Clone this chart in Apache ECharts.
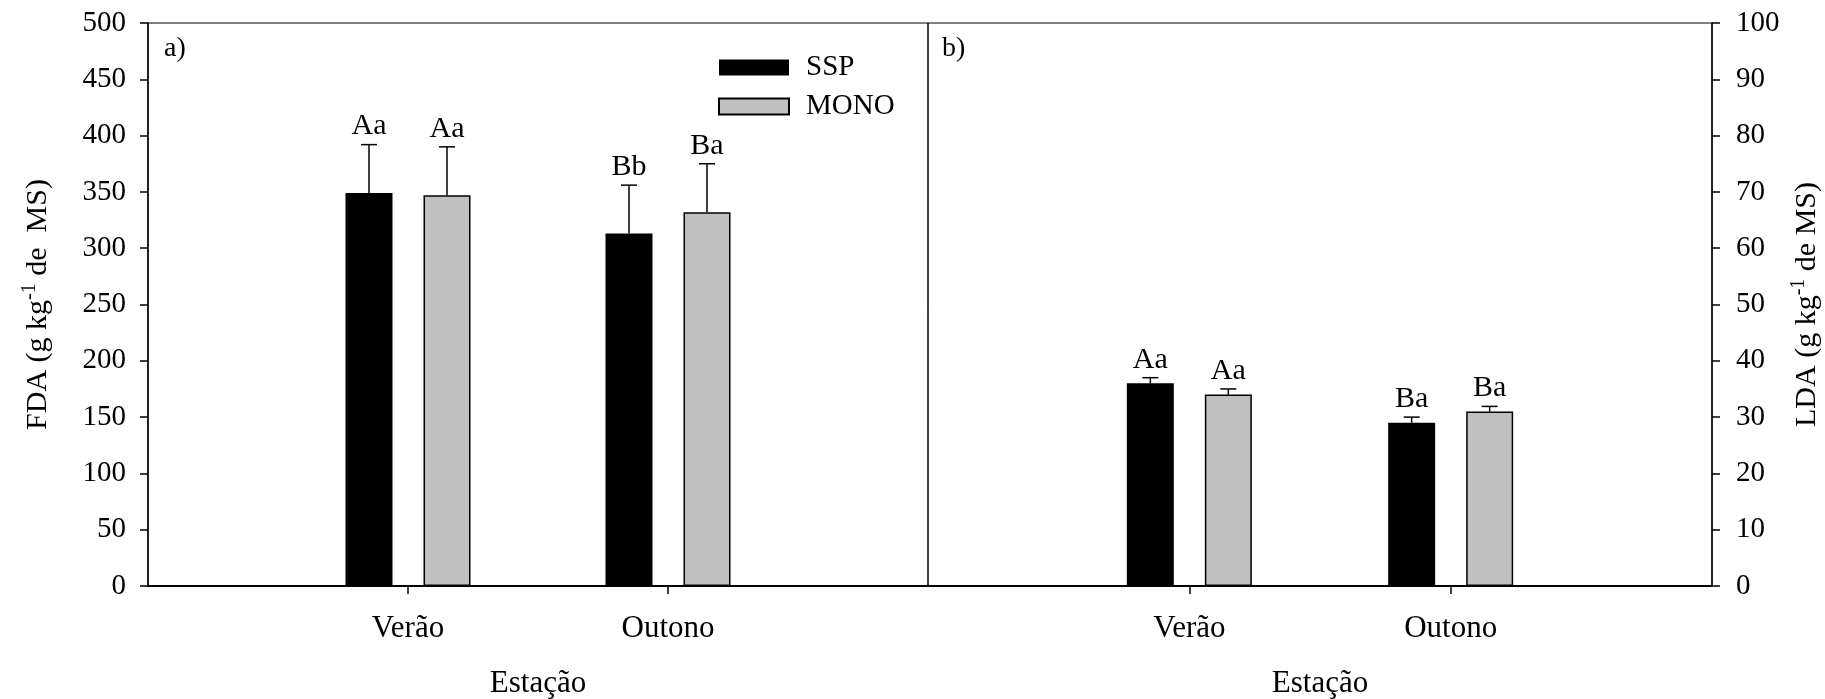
<!DOCTYPE html>
<html><head><meta charset="utf-8">
<script src="https://cdn.jsdelivr.net/npm/echarts@6/dist/echarts.min.js"></script>
<style>html,body{margin:0;padding:0;background:#fff}#c{width:1825px;height:699px}</style>
</head><body><div id="c"></div>
<script>
// ---- data ----
const seasons = ['Verão', 'Outono'];
const seriesNames = ['SSP', 'MONO'];
const fdaSSP = [349, 313];
const fdaMONO = [347, 332];
const fdaSSPErr = [43, 43];
const fdaMONOErr = [43, 43];
const fdaSSPLetters = ['Aa', 'Bb'];
const fdaMONOLetters = ['Aa', 'Ba'];
const ldaSSP = [36, 29];
const ldaMONO = [34, 31];
const ldaSSPErr = [1, 1];
const ldaMONOErr = [1, 0.9];
const ldaSSPLetters = ['Aa', 'Ba'];
const ldaMONOLetters = ['Aa', 'Ba'];
const fdaAxis = [0, 500, 50];
const ldaAxis = [0, 100, 10];
const xTitle = 'Estação';
const panelTags = ['a)', 'b)'];

// ---- style ----
const FONT = '"Liberation Serif", "Times New Roman", serif';
const BAR_W = 47, BAR_GAP = 31, CAP = 16;
const colors = ['#000000', '#c0c0c0'];

const xCats = ['', ...seasons, ''];
const pad = a => ['-', ...a, '-'];

function errSeries(name, gi, vals, errs, letters, side) {
  return {
    type: 'custom', name: name + '_err', xAxisIndex: gi, yAxisIndex: gi, z: 5,
    silent: true,
    data: vals.map((v, i) => [i + 1, v, errs[i]]),
    encode: {x: 0, y: 1},
    renderItem: function (params, api) {
      const xi = api.value(0), v = api.value(1), e = api.value(2);
      const b = api.coord([xi, v]);
      const t = api.coord([xi, v + e]);
      const x = b[0] + side * (BAR_W / 2 + BAR_GAP / 2);
      return {
        type: 'group',
        children: [
          {type: 'line', shape: {x1: x, y1: b[1], x2: x, y2: t[1]}, style: {stroke: '#000', lineWidth: 1.5}},
          {type: 'line', shape: {x1: x - CAP / 2, y1: t[1], x2: x + CAP / 2, y2: t[1]}, style: {stroke: '#000', lineWidth: 1.5}},
          {type: 'text', style: {text: letters[params.dataIndex], x: x, y: t[1] - 3, align: 'center', verticalAlign: 'bottom',
            fontSize: 30, fontFamily: FONT, fill: '#000'}}
        ]
      };
    }
  };
}

function barSeries(name, gi, vals, ci) {
  return {
    type: 'bar', name: name, xAxisIndex: gi, yAxisIndex: gi,
    data: pad(vals), barWidth: BAR_W, barGap: (BAR_GAP / BAR_W * 100).toFixed(1) + '%',
    itemStyle: {color: colors[ci], borderColor: '#000', borderWidth: ci === 0 ? 0 : 1.5},
    emphasis: {disabled: true}
  };
}

function xAxis(gi) {
  return {
    type: 'category', gridIndex: gi, data: xCats, boundaryGap: false,
    axisLine: {show: true, lineStyle: {color: '#000', width: 2}},
    axisTick: {show: true, length: 8, interval: (i) => i === 1 || i === 2, lineStyle: {color: '#000', width: 1.5}},
    axisLabel: {show: true, interval: 0, margin: 27, color: '#000', fontSize: 31, fontFamily: FONT},
    splitLine: {show: false},
    name: xTitle, nameLocation: 'middle', nameGap: 82,
    nameTextStyle: {color: '#000', fontSize: 31, fontFamily: FONT}
  };
}

const nameRich = {
  t: {fontSize: 30, fontFamily: FONT, color: '#000', lineHeight: 36},
  s: {fontSize: 20, fontFamily: FONT, color: '#000', verticalAlign: 'top', lineHeight: 36, padding: [0, 0, 10, 0]}
};

const option = {
  backgroundColor: '#fff',
  animation: false,
  textStyle: {fontFamily: FONT},
  grid: [
    {left: 148, right: 1825 - 928, top: 23, bottom: 699 - 586, show: true, borderColor: '#000', borderWidth: 1, outerBoundsMode: 'none'},
    {left: 928, right: 1825 - 1712, top: 23, bottom: 699 - 586, show: true, borderColor: '#000', borderWidth: 1, outerBoundsMode: 'none'}
  ],
  legend: {
    data: seriesNames, orient: 'vertical', left: 718, top: 53, padding: 0,
    itemWidth: 70, itemHeight: 16, itemGap: 10, icon: 'rect',
    textStyle: {fontSize: 29, fontFamily: FONT, color: '#000', lineHeight: 28, padding: [0, 0, 0, 12]},
    selectedMode: false
  },
  xAxis: [xAxis(0), xAxis(1)],
  yAxis: [
    {
      type: 'value', gridIndex: 0, position: 'left', min: fdaAxis[0], max: fdaAxis[1], interval: fdaAxis[2],
      axisLine: {show: true, lineStyle: {color: '#000', width: 1.5}},
      axisTick: {show: true, length: 8, lineStyle: {color: '#000', width: 1.5}},
      axisLabel: {margin: 22, color: '#000', fontSize: 29, fontFamily: FONT},
      splitLine: {show: false},
      name: '{t|FDA (g kg}{s|-1}{t| de  MS)}', nameLocation: 'middle', nameGap: 92, nameRotate: 90,
      nameMoveOverlap: false,
      nameTextStyle: {rich: nameRich}
    },
    {
      type: 'value', gridIndex: 1, position: 'right', min: ldaAxis[0], max: ldaAxis[1], interval: ldaAxis[2],
      axisLine: {show: true, lineStyle: {color: '#000', width: 1.5}},
      axisTick: {show: true, length: 8, lineStyle: {color: '#000', width: 1.5}},
      axisLabel: {margin: 24, color: '#000', fontSize: 29, fontFamily: FONT},
      splitLine: {show: false},
      name: '{t|LDA (g kg}{s|-1}{t| de MS)}', nameLocation: 'middle', nameGap: 77, nameRotate: 90,
      nameMoveOverlap: false,
      nameTextStyle: {rich: nameRich}
    }
  ],
  graphic: [
    {type: 'text', left: 164, top: 35, style: {text: panelTags[0], fontSize: 28, fontFamily: FONT, fill: '#000'}},
    {type: 'text', left: 942, top: 35, style: {text: panelTags[1], fontSize: 28, fontFamily: FONT, fill: '#000'}}
  ],
  series: [
    barSeries(seriesNames[0], 0, fdaSSP, 0),
    barSeries(seriesNames[1], 0, fdaMONO, 1),
    barSeries(seriesNames[0], 1, ldaSSP, 0),
    barSeries(seriesNames[1], 1, ldaMONO, 1),
    errSeries('fdaSSP', 0, fdaSSP, fdaSSPErr, fdaSSPLetters, -1),
    errSeries('fdaMONO', 0, fdaMONO, fdaMONOErr, fdaMONOLetters, 1),
    errSeries('ldaSSP', 1, ldaSSP, ldaSSPErr, ldaSSPLetters, -1),
    errSeries('ldaMONO', 1, ldaMONO, ldaMONOErr, ldaMONOLetters, 1)
  ]
};

const chart = echarts.init(document.getElementById('c'), null, {renderer: 'canvas'});
chart.setOption(option);
</script>
</body></html>
